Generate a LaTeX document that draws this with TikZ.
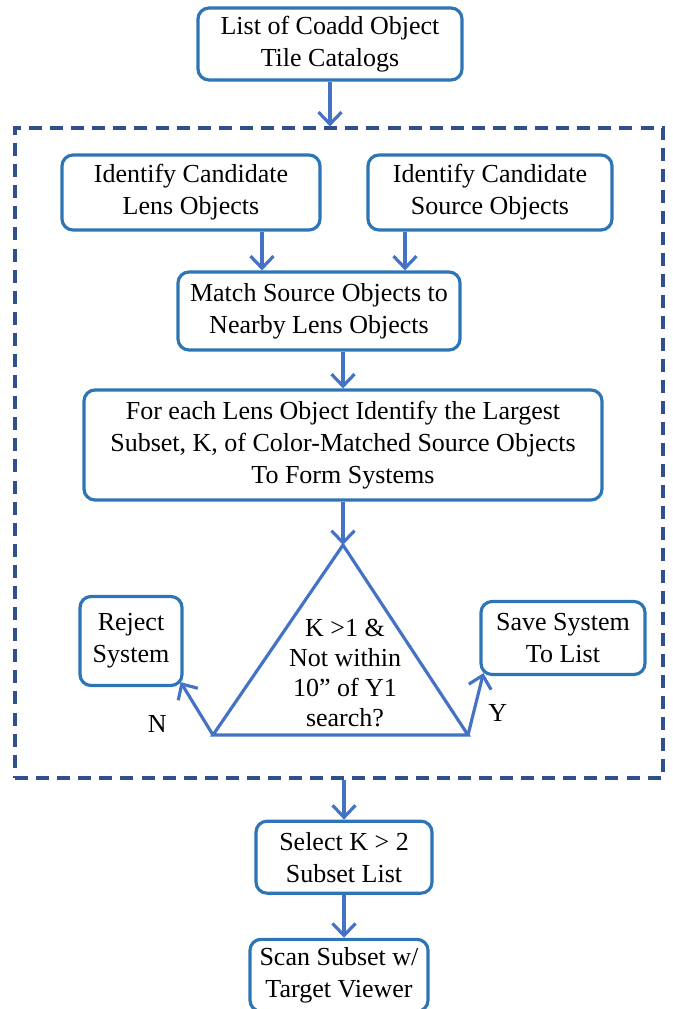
\documentclass[tikz,border=0pt]{standalone}
\usepackage{fontspec}
\setmainfont{Liberation Serif}
\usetikzlibrary{arrows.meta, positioning}

\definecolor{boxblue}{HTML}{2E75B6}
\definecolor{arrowblue}{HTML}{4472C4}
\definecolor{framenavy}{HTML}{2F4F8F}

\begin{document}
\begin{tikzpicture} [
    font=\fontsize{14.8}{18.2}\selectfont,
    process/.style={rectangle, rounded corners=0.22cm, draw=boxblue, line width=1.8pt, align=center, inner sep=2pt},
    stage/.style={rectangle, draw=framenavy, line width=1.8pt, dash pattern=on 7.4pt off 4.6pt, minimum width=12.96cm, minimum height=13cm},
    arrow/.style={-{Straight Barb[length=2.4mm, width=4.6mm]}, arrowblue, line width=1.8pt},
    label/.style={text=black, font=\fontsize{14.8}{18.2}\selectfont}
]
\useasboundingbox (0,0) rectangle (13.46,-20.18);

% Nodes
\node[process, minimum width=5.28cm, minimum height=1.44cm] (catalogs) at (6.6,-0.88) {List of Coadd Object\\Tile Catalogs};
\node[stage] (pipeline) at (6.78,-9.06) {};
\node[process, minimum width=5.16cm, minimum height=1.5cm] (lens) at (3.82,-3.85) {Identify Candidate\\Lens Objects};
\node[process, minimum width=4.88cm, minimum height=1.5cm] (source) at (9.8,-3.85) {Identify Candidate\\Source Objects};
\node[process, minimum width=5.64cm, minimum height=1.56cm] (match) at (6.38,-6.22) {Match Source Objects to\\Nearby Lens Objects};
\node[process, minimum width=10.36cm, minimum height=2.2cm] (largest) at (6.86,-8.9) {For each Lens Object Identify the Largest\\Subset, K, of Color-Matched Source Objects\\To Form Systems};

% Decision triangle
\coordinate (apex) at (6.86,-10.9);
\coordinate (baseleft) at (4.26,-14.7);
\coordinate (baseright) at (9.36,-14.7);
\draw[arrowblue, line width=1.8pt, line join=miter] (apex) -- (baseleft) -- (baseright) -- cycle;
\node[align=center, font=\fontsize{14.8}{17}\selectfont] (test) at (6.9,-13.46) {K >1 \&\\Not within\\10” of Y1\\search?};

\node[process, minimum width=2.04cm, minimum height=1.78cm] (reject) at (2.62,-12.82) {Reject\\System};
\node[process, minimum width=3.28cm, minimum height=1.46cm] (save) at (11.26,-12.76) {Save System\\To List};

\node[process, minimum width=3.52cm, minimum height=1.44cm, below=0.8cm of pipeline, xshift=0.1cm] (select) {Select K > 2\\Subset List};
\node[process, minimum width=3.56cm, minimum height=1.44cm, below=0.86cm of select, xshift=-0.1cm] (scan) {Scan Subset w/\\Target Viewer};

% Arrows
\draw[arrow] (catalogs.south) -- (catalogs.south |- pipeline.north);
\draw[arrow] ([xshift=1.42cm]lens.south) -- ([xshift=1.42cm]lens.south |- match.north);
\draw[arrow] ([xshift=-1.7cm]source.south) -- ([xshift=-1.7cm]source.south |- match.north);
\draw[arrow] ([xshift=0.48cm]match.south) -- (largest.north);
\draw[arrow] (largest.south) -- (apex);
\draw[arrow] (baseleft) -- node[label, pos=0.2, left=0.65cm] {N} ([shift={(-0.06,0.1)}]reject.south east);
\draw[arrow] (baseright) -- node[label, pos=0.35, right=0.15cm] {Y} ([shift={(0.08,0.06)}]save.south west);
\draw[arrow] (pipeline.south -| select.north) -- (select.north);
\draw[arrow] (select.south) -- (select.south |- scan.north);

\end{tikzpicture}
\end{document}
